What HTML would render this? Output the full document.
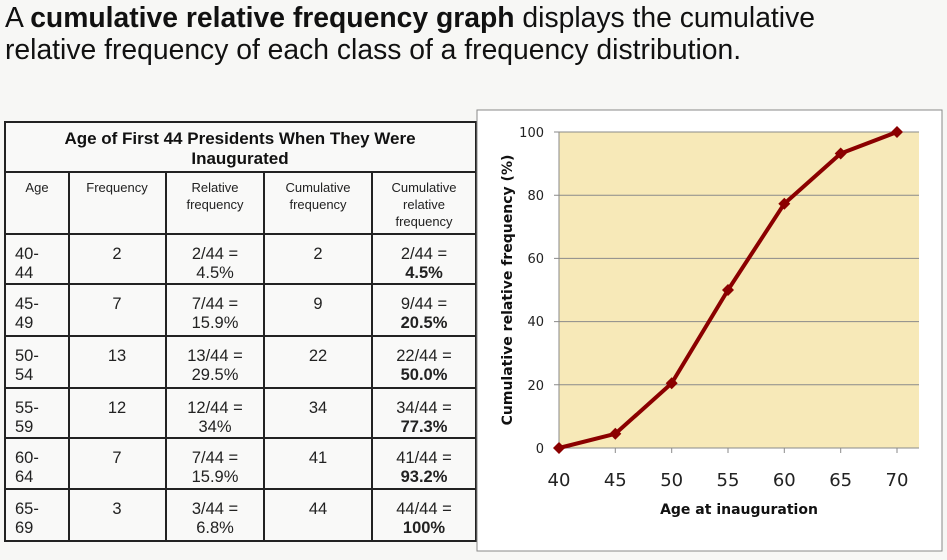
<!DOCTYPE html>
<html><head><meta charset="utf-8"><style>
html,body{margin:0;padding:0;background:#f7f7f5;}
body{width:947px;height:560px;overflow:hidden;position:relative;font-family:"Liberation Sans",Arial,sans-serif;}
.t{position:absolute;left:5px;top:1px;font-size:28.3px;line-height:32px;color:#111;}
svg{font-family:"Liberation Sans",Arial,sans-serif;}
.dv{font-family:"DejaVu Sans",sans-serif;}
</style></head><body>
<div class="t">A <b>cumulative relative frequency graph</b> displays the cumulative<br>relative frequency of each class of a frequency distribution.</div>
<svg width="947" height="560" style="position:absolute;left:0;top:0">
<g stroke="#222" stroke-width="2" fill="none">
<rect x="5" y="122" width="471" height="419" fill="#f9f9f8"/>
<line x1="5" y1="172" x2="476" y2="172"/>
<line x1="5" y1="234" x2="476" y2="234"/>
<line x1="5" y1="284" x2="476" y2="284"/>
<line x1="5" y1="336" x2="476" y2="336"/>
<line x1="5" y1="388" x2="476" y2="388"/>
<line x1="5" y1="438" x2="476" y2="438"/>
<line x1="5" y1="489" x2="476" y2="489"/>
<line x1="69" y1="172" x2="69" y2="541"/>
<line x1="166" y1="172" x2="166" y2="541"/>
<line x1="264" y1="172" x2="264" y2="541"/>
<line x1="372" y1="172" x2="372" y2="541"/>
</g>
<g font-size="17" fill="#111" text-anchor="middle" font-weight="bold">
<text x="240" y="144">Age of First 44 Presidents When They Were</text>
<text x="240" y="164">Inaugurated</text>
</g>
<g font-size="13" fill="#222" text-anchor="middle">
<text x="37" y="192">Age</text>
<text x="117" y="192">Frequency</text>
<text x="215" y="192">Relative</text><text x="215" y="209">frequency</text>
<text x="318" y="192">Cumulative</text><text x="318" y="209">frequency</text>
<text x="424" y="192">Cumulative</text><text x="424" y="209">relative</text><text x="424" y="226">frequency</text>
</g>
<g font-size="16.5" fill="#222">
<g text-anchor="start">
<text x="15" y="259">40-</text><text x="15" y="278">44</text>
<text x="15" y="309">45-</text><text x="15" y="328">49</text>
<text x="15" y="361">50-</text><text x="15" y="380">54</text>
<text x="15" y="413">55-</text><text x="15" y="432">59</text>
<text x="15" y="463">60-</text><text x="15" y="482">64</text>
<text x="15" y="514">65-</text><text x="15" y="533">69</text>
</g>
<g text-anchor="middle">
<text x="117" y="259">2</text><text x="117" y="309">7</text><text x="117" y="361">13</text><text x="117" y="413">12</text><text x="117" y="463">7</text><text x="117" y="514">3</text>
<text x="215" y="259">2/44 =</text><text x="215" y="278">4.5%</text>
<text x="215" y="309">7/44 =</text><text x="215" y="328">15.9%</text>
<text x="215" y="361">13/44 =</text><text x="215" y="380">29.5%</text>
<text x="215" y="413">12/44 =</text><text x="215" y="432">34%</text>
<text x="215" y="463">7/44 =</text><text x="215" y="482">15.9%</text>
<text x="215" y="514">3/44 =</text><text x="215" y="533">6.8%</text>
<text x="318" y="259">2</text><text x="318" y="309">9</text><text x="318" y="361">22</text><text x="318" y="413">34</text><text x="318" y="463">41</text><text x="318" y="514">44</text>
<text x="424" y="259">2/44 =</text><text x="424" y="309">9/44 =</text><text x="424" y="361">22/44 =</text><text x="424" y="413">34/44 =</text><text x="424" y="463">41/44 =</text><text x="424" y="514">44/44 =</text>
<g font-weight="bold">
<text x="424" y="278">4.5%</text><text x="424" y="328">20.5%</text><text x="424" y="380">50.0%</text><text x="424" y="432">77.3%</text><text x="424" y="482">93.2%</text><text x="424" y="533">100%</text>
</g></g></g>
<rect x="477" y="110" width="465" height="441" fill="#fff" stroke="#888" stroke-width="1"/>
<rect x="559" y="132" width="360" height="316" fill="#f7e9b8"/>
<g stroke="#8a8a8a" stroke-width="1">
<line x1="554" y1="132" x2="919" y2="132"/>
<line x1="554" y1="195.2" x2="919" y2="195.2"/>
<line x1="554" y1="258.4" x2="919" y2="258.4"/>
<line x1="554" y1="321.6" x2="919" y2="321.6"/>
<line x1="554" y1="384.8" x2="919" y2="384.8"/>
<line x1="554" y1="448" x2="919" y2="448"/>
<line x1="559" y1="132" x2="559" y2="453"/>
<line x1="615.3" y1="448" x2="615.3" y2="453"/><line x1="671.7" y1="448" x2="671.7" y2="453"/><line x1="728" y1="448" x2="728" y2="453"/><line x1="784.3" y1="448" x2="784.3" y2="453"/><line x1="840.7" y1="448" x2="840.7" y2="453"/><line x1="897" y1="448" x2="897" y2="453"/>
</g>
<g class="dv" font-size="13" fill="#222" text-anchor="end">
<text x="544" y="137">100</text><text x="544" y="200">80</text><text x="544" y="263">60</text><text x="544" y="326">40</text><text x="544" y="390">20</text><text x="544" y="453">0</text>
</g>
<g class="dv" font-size="18" fill="#222" text-anchor="middle">
<text x="559" y="486">40</text><text x="615.3" y="486">45</text><text x="671.7" y="486">50</text><text x="728" y="486">55</text><text x="784.3" y="486">60</text><text x="840.7" y="486">65</text><text x="897" y="486">70</text>
</g>
<text class="dv" x="739" y="514" font-size="14" font-weight="bold" text-anchor="middle" fill="#111">Age at inauguration</text>
<text class="dv" transform="translate(512,290) rotate(-90)" font-size="14" font-weight="bold" text-anchor="middle" fill="#111">Cumulative relative frequency (%)</text>
<polyline fill="none" stroke="#8b0000" stroke-width="4" stroke-linejoin="round" points="559,448 615.3,433.8 671.7,383.2 728,290 784.3,203.7 840.7,153.5 897,132"/>
<g fill="#8b0000">
<path d="M559 442l6 6-6 6-6-6z"/><path d="M615.3 427.8l6 6-6 6-6-6z"/><path d="M671.7 377.2l6 6-6 6-6-6z"/><path d="M728 284l6 6-6 6-6-6z"/><path d="M784.3 197.7l6 6-6 6-6-6z"/><path d="M840.7 147.5l6 6-6 6-6-6z"/><path d="M897 126l6 6-6 6-6-6z"/>
</g>
</svg>
</body></html>
